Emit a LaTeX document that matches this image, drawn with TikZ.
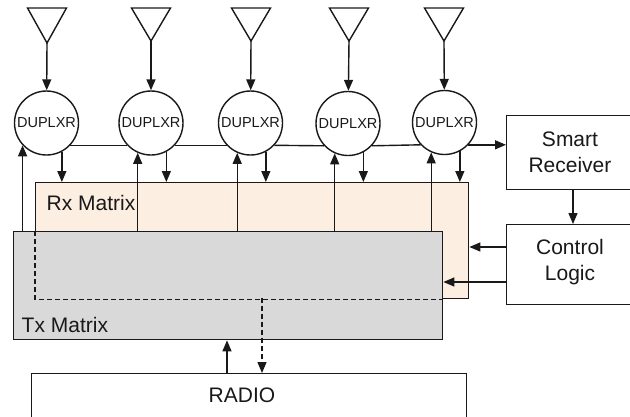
\documentclass[tikz,border=0pt]{standalone}
\usepackage{fontspec}
\setmainfont{Liberation Sans}
\usetikzlibrary{arrows.meta}
\definecolor{rxfill}{RGB}{253,238,226}
\definecolor{txfill}{RGB}{217,217,217}
\definecolor{ln}{RGB}{25,25,25}
\begin{document}
\begin{tikzpicture}[x=1pt,y=-1pt, line width=1.4pt, color=ln,
  arr/.style={-{Triangle[length=11pt,width=9pt]}},
  dup/.style={circle, draw=ln, line width=1.4pt, fill=white, minimum size=64pt, inner sep=0pt, font=\fontsize{14.5}{16}\selectfont},
  blk/.style={rectangle, draw=ln, line width=1.4pt, inner sep=0pt, anchor=north west},
  lbl/.style={font=\fontsize{21}{26}\selectfont, align=center, inner sep=0pt},
  dsh/.style={dash pattern=on 5pt off 3pt}]
\useasboundingbox (0,0) rectangle (630,416);
\clip (0,0) rectangle (630,416);
\fill[white] (0,0) rectangle (630,416);

% boxes
\node[blk, fill=rxfill, minimum width=433pt, minimum height=116pt] (rx) at (35,182) {};
\node[blk, fill=txfill, minimum width=429pt, minimum height=108pt] (tx) at (13,231) {};
\node[blk, minimum width=435pt, minimum height=70pt] (radio) at (31,373) {};
\node[blk, minimum width=130pt, minimum height=74pt] (sr) at (506,115) {};
\node[blk, minimum width=130pt, minimum height=80pt] (cl) at (506,224) {};

\node[lbl, anchor=west] (rxl) at (46,202.5) {Rx Matrix};
\node[lbl, anchor=west] (txl) at (21,324.5) {Tx Matrix};
\node[lbl] (radiol) at (242,395.5) {RADIO};
\node[lbl] (srl) at (570,152) {Smart\\Receiver};
\node[lbl] (cll) at (570,262) {Control\\Logic};

% duplexers
\node[dup] (c1) at (46.5,123) {DUPLXR};
\node[dup] (c2) at (151,123) {DUPLXR};
\node[dup] (c3) at (250.5,123) {DUPLXR};
\node[dup] (c4) at (348,123.5) {DUPLXR};
\node[dup] (c5) at (444.5,122.5) {DUPLXR};

% antennas
\foreach \i/\x/\t in {1/47/43,2/151/41,3/251/41,4/349/41,5/444/41}{
  \coordinate (a\i) at (\x,\t);
  \draw[line join=miter] (a\i) -- (\x-19.5,8) -- (\x+19.5,8) -- cycle;
  \draw[arr] (a\i) -- (c\i);
}

% bus
\draw (c1.317) -- (c2.223);
\draw (c2.317) -- (c3.223);
\draw (c3.317) -- (c4.223);
\draw (c4.317) -- (c5.223);
\draw[arr] (c5.317) -- (sr.west |- c5.317);
\draw[arr] (sr.south -| 573,0) -- (cl.north -| 573,0);

% up / down arrows
\draw[arr] (c1.223 |- tx.north) -- (c1.223);
\foreach \i in {2,...,5}{
  \draw[arr] (c\i.246 |- tx.north) -- (c\i.246);
}
\foreach \i in {1,...,5}{
  \draw[arr] (c\i.298) -- (c\i.298 |- rx.north);
}

% hidden edges of Rx
\draw[dsh] (rx.west |- tx.north) -- (rx.south west) -- (rx.south -| tx.east);
\coordinate (dsplit) at (262,298);
\draw[dsh, arr] (dsplit) -- (dsplit |- radio.north);
\draw[arr] (radio.north -| 227,0) -- (tx.south -| 227,0);

% control logic arrows
\draw[arr] (cl.west |- 0,247) -- (rx.east |- 0,247);
\draw[arr] (cl.west |- 0,282) -- (tx.east |- 0,282);
\end{tikzpicture}
\end{document}
